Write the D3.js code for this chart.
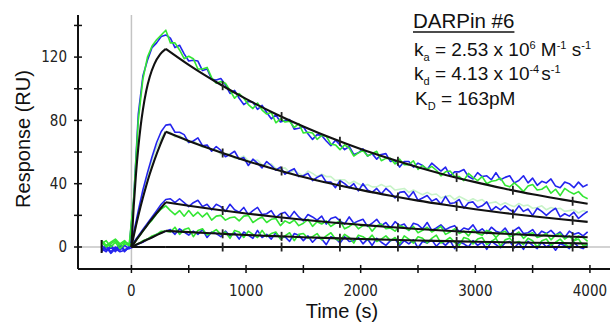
<!DOCTYPE html>
<html><head><meta charset="utf-8">
<script src="https://cdn.jsdelivr.net/npm/d3@7"></script>
<style>html,body{margin:0;padding:0;background:#fff}svg{display:block}</style>
</head><body><svg id="c" width="613" height="324"></svg>
<script>
// ---------- DATA ----------
// sampling grid of the sensorgram traces (s)
const tGrid = d3.range(-260, 3981, 40);
// fitted 1:1 model curves (black), sampled at fitTimes
const fitTimes = [0,20,40,60,80,100,130,160,200,250,300,500,750,1000,1250,1500,1750,2000,2250,2500,2750,3000,3250,3500,3750,3980];
const fit1 = [0,25.7,46.3,62.8,76.1,86.7,98.9,107.6,115.6,121.7,125.2,115.1,103.8,93.6,84.4,76.2,68.7,61.9,55.9,50.4,45.4,41.0,37.0,33.3,30.1,27.3];
const fit2 = [0,6.9,13.5,19.7,25.6,31.1,38.9,46.1,54.8,64.4,72.8,67.0,60.5,54.5,49.2,44.3,40.0,36.1,32.5,29.3,26.5,23.9,21.5,19.4,17.5,15.9];
const fit3 = [0,2.1,4.2,6.2,8.2,10.2,13.1,16.0,19.6,24.0,28.3,26.1,23.5,21.2,19.1,17.2,15.5,14.0,12.6,11.4,10.3,9.3,8.4,7.5,6.8,6.2];
const fit4 = [0,0.7,1.4,2.1,2.7,3.4,4.4,5.4,6.8,8.5,10.2,9.4,8.5,7.6,6.9,6.2,5.6,5.1,4.6,4.1,3.7,3.3,3.0,2.7,2.5,2.2];
const fit0 = [0,0,0,0,0,0,0,0,0,0,0,0,0,0,0,0,0,0,0,0,0,0,0,0,0,0];
// measured responses (RU), replicate 1 (blue) and replicate 2 (green)
const blue1 = [-1,-3,1,-2,2,-3,0,30,84,108,118,126,129,133,134,
 132,126,127.5,122,117.5,118,117.5,111.5,112.5,106,105.5,106.5,102.5,97,99,94,90,92,91.5,87,
 89.5,85,81,83.5,79,80,80.5,74.5,75,76,71.5,68,71,70.5,67,64,67.5,64.5,61.5,63.5,
 58.5,59.5,62,57.5,59,55.5,58.5,59,54,54.5,50.5,54,54,50.5,53,51.5,49,53,50.5,48,
 50.5,45,47.5,47.5,49,44.5,43,47,44.5,45,42.5,47,42.5,44,45,40.5,42,45,40.5,43.5,
 39,41.5,40.5,43,38.5,37.5,41,40,37.5,41,38,39.5];
const green1 = [2,4,0,3,-1,2,1,31,80,106,120,127,131,134,137,
 129,129,124.5,119,120.5,119,112.5,112.5,113.5,107,103.5,104.5,103.5,99,94,97,94,90,87.5,91,
 86.5,84,85,78.5,81,79,79.5,75.5,78,72,72.5,72,68,70.5,70,65,64.5,61.5,64.5,62.5,
 57.5,59.5,61,57.5,59,60.5,54.5,56,56,52.5,55.5,52,52,54.5,49,51.5,49,51,48.5,45,
 47.5,48,44.5,44.5,42,46.5,44,42,44.5,40,41.5,42,43.5,39,38,40.5,38,35,38.5,39.5,
 36,36.5,38.5,34,36.5,32.5,37,35,33.5,35,32,30.5];
const blue2 = [-2,1,-3,0,-2,1,-1,9,23,36,47,57,66,73,77,
 77.5,72.5,72.5,71,66,67,69,64,64.5,60.5,63.5,61,57,58.5,60.5,55.5,56.5,51.5,55.5,53,
 50,54,51.5,48.5,50.5,46,48,49.5,44.5,45,46.5,42,44,45.5,41,41,37.5,42,40,37.5,
 40,35.5,40,36,34.5,37,33.5,37,34.5,31,34.5,35,31.5,35,29.5,31,32.5,29,30.5,27,
 32,27.5,28,30,24.5,28,28.5,25,26,28.5,23,25.5,23.5,26,23.5,22,26,22.5,24,20,
 24.5,22.5,20,22.5,24.5,19,21,19.5,22,18,20.5,22.5];
const paleGreen2 = [1,-1,2,0,1,-1,0,7,20,33,45,55,63,69,73,
 72.5,69.5,70.5,68,66,67,65,63,63.5,61.5,61.5,58.5,58.5,59,56,56,57.5,54.5,54.5,55,
 52,52,52.5,49.5,49.5,50,47,48.5,46.5,45,48,46.5,44.5,46,44.5,44.5,42,42.5,42.5,40,
 41.5,40,38.5,39.5,38,38,39.5,38,38.5,36,36.5,37,34.5,36,34.5,33,34.5,33,33.5,31,
 32,32.5,30,32,30.5,29,30.5,29,30,27.5,28,28.5,26.5,28,26.5,25.5,27.5,26,26.5,24.5,
 25,26,23.5,25,24,24.5,22.5,23,23.5,21.5,23,22];
const blue3 = [1,-2,0,-3,1,-2,0,3,7,11,15,19,23,27,30,
 30.5,28,30.5,28,25.5,28,29.5,25.5,27,23.5,27,25.5,22.5,27,23.5,22,25,20.5,23,25,
 20.5,21,23,18.5,21,22,18.5,22.5,19,16.5,20.5,19,17,19.5,14.5,18,19,16.5,14.5,19,
 15,16.5,17.5,13,15,17.5,13.5,15.5,12,16,13.5,14.5,10.5,15,14,11.5,15.5,10.5,12,14,
 11,12.5,13.5,9.5,12,11,14,9.5,11.5,8.5,12.5,10,9,12,7.5,10.5,12.5,8.5,9,11,
 7,10,8.5,10.5,7.5,9.5,6,10,8,9,7,9.5];
const green3 = [3,0,2,4,1,3,2,2,6,10,14,17,21,24,26,
 23,20.5,23,19.5,23,19.5,22,19,21.5,17,19.5,20,17,18.5,19,16.5,19.5,20,15.5,17.5,
 19,15.5,17.5,18,13.5,16.5,15,17,13.5,15,17.5,13,16,14.5,16.5,13,15,16.5,11.5,13,
 15,11.5,13.5,14,10,13.5,14.5,11.5,12,10,13.5,12.5,10.5,13,9,10.5,12.5,9.5,11,13,
 8,9.5,11.5,8.5,10,7,11,8.5,7.5,10.5,9.5,6,9,10,6.5,7.5,9.5,5.5,8,9,
 6,7,8.5,4.5,7.5,8.5,5,7,4,7,6,3.5];
const blue4 = [-3,0,-4,-1,-3,-2,-1,0,2,3,5,6,8,9,10,
 11,8,11.5,9.5,7.5,10,8,11,6,9.5,8.5,6.5,10,7,9,5,9.5,7.5,5.5,10.5,
 6,8,5,9,5.5,6.5,3.5,8.5,7.5,4,7,3,6,5,1.5,6.5,5.5,2.5,6.5,3.5,
 4,6,2,5,1,5.5,3,1,4,5,1,4,2,4.5,-0.5,3.5,2.5,4.5,0.5,3.5,
 1,4,-1,3,2,0,4,1,3,-1.5,3.5,1.5,-0.5,2.5,3.5,-0.5,2.5,-1.5,3.5,1,
 -1,3,0,2,-2,2,1,-1,3,0,-1,1.5];
const green4 = [4,1,3,5,2,4,1,1,2,4,5,7,8,10,10,
 9.5,12.5,8,11,12,6.5,10.5,11.5,7.5,9,11,8,9.5,5.5,10.5,9.5,6,10,8,6,
 10.5,6.5,8.5,9.5,5,7,9,4,8,8.5,5.5,6.5,8.5,4.5,7,9,5,4,8,6,
 2.5,7.5,6.5,4.5,7.5,3.5,5,7,4,6,2,7,5,2.5,6.5,5.5,2.5,5.5,7.5,2.5,
 4,6,3,1,6,5,2,5,6,1.5,3.5,5.5,0.5,4.5,5.5,2.5,3.5,1.5,5.5,4,
 0,4,5,1,3,5,2,0,4,5,1,1.5];
// event flags drawn on the fitted curves (s)
const markerTimes = [796,1310,1819,2325,2837,3328,3849];
const startMarkerTime = -260;
// axes
const yTicks = [0,20,40,60,80,100,120,140];
const yLabelTicks = [0,40,80,120];
const xTicks = [0,500,1000,1500,2000,2500,3000,3500,4000];
const xLabelTicks = [0,1000,2000,3000,4000];
const xTitle = "Time (s)";
const yTitle = "Response (RU)";

// ---------- DRAW ----------
const svg = d3.select("#c");
svg.append("rect").attr("width",613).attr("height",324).attr("fill","#fff");
const x = d3.scaleLinear().domain([-466, 4175]).range([78, 610]);
const y = d3.scaleLinear().domain([-13.9, 146.6]).range([269, 15]);

// reference lines at t=0 and R=0
svg.append("line").attr("x1",x(0)).attr("x2",x(0)).attr("y1",y.range()[1]).attr("y2",y.range()[0])
  .attr("stroke","#c4c4c4").attr("stroke-width",1.5);
svg.append("line").attr("x1",x.range()[0]).attr("x2",x.range()[1]).attr("y1",y(0)).attr("y2",y(0))
  .attr("stroke","#c4c4c4").attr("stroke-width",1.5);

const dataLine = d3.line().x((d,i)=>x(tGrid[i])).y(d=>y(d));
const series = [
  {v: paleGreen2, c: "#c8f3c8"},
  {v: blue1, c: "#2424ee"}, {v: blue2, c: "#2424ee"}, {v: blue3, c: "#2424ee"}, {v: blue4, c: "#2424ee"},
  {v: green1, c: "#33e633"}, {v: green3, c: "#33e633"}, {v: green4, c: "#33e633"}
];
svg.append("g").selectAll("path").data(series).join("path")
  .attr("d", d=>dataLine(d.v)).attr("fill","none").attr("stroke",d=>d.c)
  .attr("stroke-width",1.6).attr("stroke-linejoin","round");

// fits
const fits = [fit0, fit4, fit3, fit2, fit1];
const fitLine = d3.line().x(d=>x(d[0])).y(d=>y(d[1])).curve(d3.curveMonotoneX);
const gF = svg.append("g");
fits.forEach(f=>{
  const pts = fitTimes.map((t,i)=>[t,f[i]]);
  const split = fitTimes.indexOf(300);
  [pts.slice(0, split+1), pts.slice(split)].forEach(seg=>{
    gF.append("path").attr("d", fitLine(seg)).attr("fill","none")
      .attr("stroke","#111").attr("stroke-width",2.1);
  });
});
function fitAt(f, t){
  const i = Math.min(d3.bisectRight(fitTimes, t) - 1, fitTimes.length-2);
  const t0=fitTimes[i], t1=fitTimes[i+1];
  return f[i] + (f[i+1]-f[i])*(t-t0)/(t1-t0);
}
fits.forEach(f=>{
  markerTimes.forEach(t=>{
    const yy = y(fitAt(f,t));
    gF.append("line").attr("x1",x(t)).attr("x2",x(t)).attr("y1",yy-4.5).attr("y2",yy+4.5)
      .attr("stroke","#222").attr("stroke-width",1.8);
  });
});
gF.append("line").attr("x1",x(startMarkerTime)).attr("x2",x(startMarkerTime))
  .attr("y1",y(0)-7).attr("y2",y(0)+6).attr("stroke","#111").attr("stroke-width",2);

// axes
const ax = svg.append("g");
const y0 = y.range()[0], xL = x.range()[0];
ax.append("line").attr("x1",xL).attr("x2",x.range()[1]).attr("y1",y0).attr("y2",y0).attr("stroke","#111").attr("stroke-width",2);
ax.append("line").attr("x1",xL).attr("x2",xL).attr("y1",y.range()[1]).attr("y2",y0).attr("stroke","#111").attr("stroke-width",2);
ax.selectAll(".yt").data(yTicks).join("line").attr("x1",xL-4).attr("x2",xL+4)
  .attr("y1",d=>y(d)).attr("y2",d=>y(d)).attr("stroke","#111").attr("stroke-width",1.5);
ax.selectAll(".xt").data(xTicks).join("line").attr("y1",y0-4).attr("y2",y0+4)
  .attr("x1",d=>x(d)).attr("x2",d=>x(d)).attr("stroke","#111").attr("stroke-width",1.5);
const tickFont = "'DejaVu Sans Condensed','DejaVu Sans',sans-serif";
ax.selectAll(".yl").data(yLabelTicks).join("text").attr("x",xL-11).attr("y",d=>y(d)).attr("dy","0.36em")
  .attr("text-anchor","end").attr("font-family",tickFont).attr("font-stretch","condensed").attr("font-size",15).attr("fill","#222").text(d=>d);
ax.selectAll(".xl").data(xLabelTicks).join("text").attr("x",d=>x(d)).attr("y",y0+27)
  .attr("text-anchor","middle").attr("font-family",tickFont).attr("font-stretch","condensed").attr("font-size",15).attr("fill","#222").text(d=>d);
const titleFont = "'Liberation Sans',Arial,sans-serif";
svg.append("text").attr("x",342).attr("y",318).attr("text-anchor","middle")
  .attr("font-family",titleFont).attr("font-size",20).attr("fill","#111").text(xTitle);
svg.append("text").attr("transform","translate(30,139) rotate(-90)").attr("text-anchor","middle")
  .attr("font-family",titleFont).attr("font-size",20).attr("fill","#111").text(yTitle);

// annotation
const ann = svg.append("g").attr("font-family",titleFont).attr("fill","#111").attr("font-size",19);
const tt = ann.append("text").attr("x",413).attr("y",28).attr("font-size",20.5).text("DARPin #6");
const bb = tt.node().getBBox();
ann.append("line").attr("x1",bb.x).attr("x2",bb.x+bb.width).attr("y1",32).attr("y2",32).attr("stroke","#111").attr("stroke-width",1.5);
function rich(xp, yp, parts){
  const t = ann.append("text").attr("x",xp).attr("y",yp);
  let cur = 0;
  parts.forEach(p=>{
    const off = p[1]==="sub"?5:(p[1]==="sup"?-7:0);
    const ts = t.append("tspan").attr("dy", off-cur).attr("font-size", p[1]?11:19).text(p[0]);
    if (p[2]) ts.attr("dx", p[2]);
    cur = off;
  });
}
rich(414, 56, [["k"],["a","sub"],[" = 2.53 x 10"],["6","sup"],[" M"],["-1","sup"],[" s"],["-1","sup"]]);
rich(414, 80, [["k"],["d","sub"],[" = 4.13 x 10"],["-4","sup"],["s",null,2],["-1","sup"]]);
rich(415, 104.5, [["K"],["D","sub"],[" = 163pM"]]);
</script></body></html>
